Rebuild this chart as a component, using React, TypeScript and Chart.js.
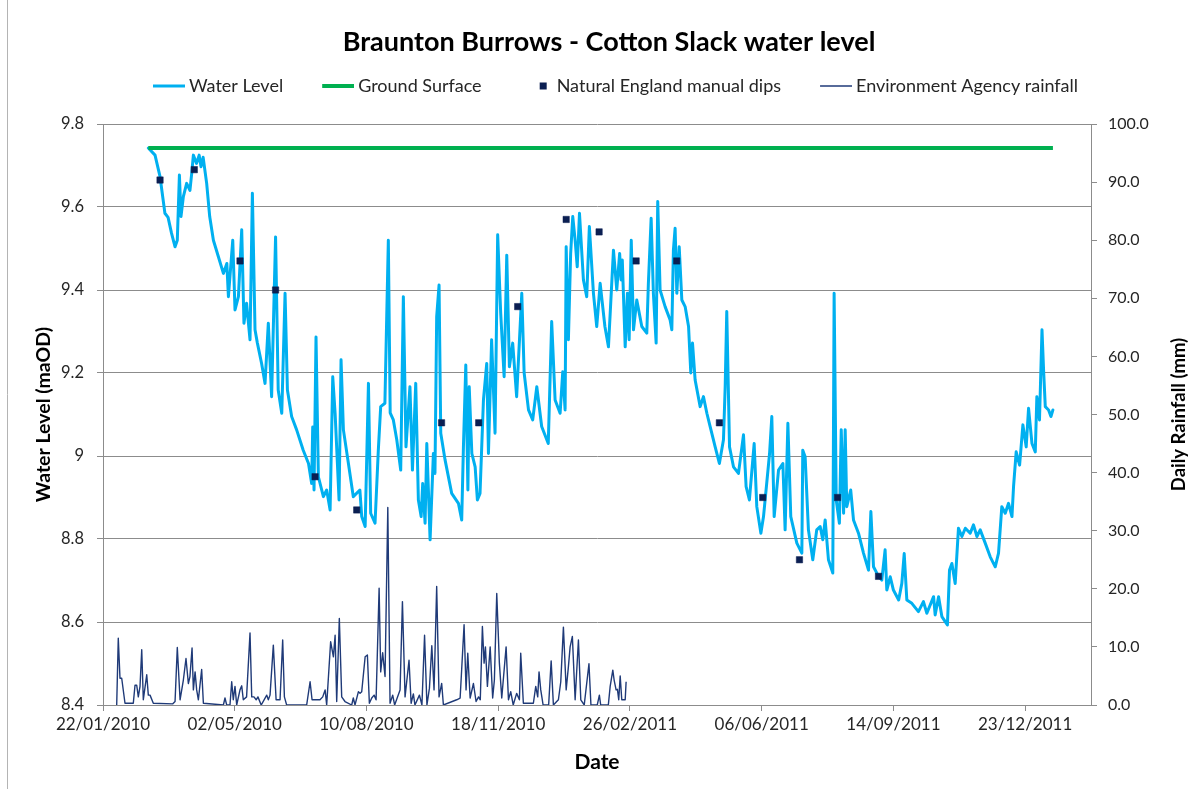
import React, { useEffect, useRef } from 'react';
import { Chart, registerables, layouts } from 'chart.js';

Chart.register(...registerables);

// ---- data (x = days since 22/01/2010) ----
const xTickDays = [0, 100, 200, 300, 400, 500, 600, 700];
const xTickLabels = ['22/01/2010', '02/05/2010', '10/08/2010', '18/11/2010', '26/02/2011', '06/06/2011', '14/09/2011', '23/12/2011'];

const waterLevel: [number, number][] = [
  [34.4, 9.742], [39.5, 9.725], [43.3, 9.673], [47, 9.585], [49.4, 9.575], [52, 9.537], [54.7, 9.504], [56.4, 9.52],
  [58, 9.677], [59.2, 9.577], [61, 9.625], [63.5, 9.657], [66, 9.64], [67.3, 9.68], [68.6, 9.725], [71, 9.705],
  [73, 9.725], [74.4, 9.697], [76, 9.72], [78.7, 9.657], [81, 9.577], [83.8, 9.52], [87.6, 9.48], [91.4, 9.44],
  [94, 9.464], [95.2, 9.384], [98.5, 9.52], [100.2, 9.352], [102.8, 9.384], [105.3, 9.545], [107, 9.32], [109, 9.368],
  [111.6, 9.28], [113.4, 9.633], [115.4, 9.304], [117.2, 9.272], [120.4, 9.223], [123, 9.175], [125.5, 9.32], [128, 9.143],
  [131, 9.528], [133, 9.159], [135.7, 9.103], [138.2, 9.392], [140, 9.159], [143.2, 9.095], [147, 9.063], [152, 9.014],
  [156, 8.982], [158.4, 8.934], [159.2, 9.07], [160.2, 8.918], [161.7, 9.287], [163.5, 8.95], [167.3, 8.902], [169.8, 8.918],
  [172.4, 8.87], [174.4, 9.191], [176.2, 9.103], [179.2, 8.894], [180.7, 9.232], [182.5, 9.063], [186.3, 8.982], [190, 8.902],
  [195, 8.918], [196.4, 8.854], [199, 8.83], [201.5, 9.175], [203.2, 8.862], [206.5, 8.838], [209, 9.014], [210.8, 9.119],
  [214, 9.127], [216.6, 9.52], [218, 9.104], [220.4, 9.087], [223, 9.039], [226, 8.966], [228, 9.384], [230, 9.022],
  [233, 9.167], [234.9, 8.966], [237.4, 9.175], [239.4, 8.894], [241.5, 8.854], [242.7, 8.934], [244.5, 8.838], [245.8, 9.03],
  [248.3, 8.798], [250.8, 9.006], [252, 8.958], [253.3, 9.336], [255.1, 9.412], [256.4, 9.055], [259.7, 8.99], [264.7, 8.91],
  [269.8, 8.886], [272.3, 8.846], [273.6, 9.022], [275.4, 9.219], [277, 8.918], [278, 9.167], [280, 9.006], [282.5, 8.974],
  [284.2, 8.894], [286.2, 8.91], [288.8, 9.135], [291.3, 9.223], [292.6, 9.006], [295, 9.28], [297.6, 9.055], [299.6, 9.533],
  [301.9, 9.344], [304.5, 9.191], [306.5, 9.484], [308.5, 9.215], [311, 9.272], [314, 9.143], [317.9, 9.392], [319.7, 9.2],
  [323, 9.111], [326.2, 9.087], [329.3, 9.167], [333, 9.071], [338, 9.03], [340.6, 9.324], [343.2, 9.135], [347, 9.103],
  [349, 9.203], [350.8, 9.111], [351.6, 9.504], [353.3, 9.28], [355, 9.488], [356.6, 9.577], [358.4, 9.52], [360, 9.456],
  [361.7, 9.585], [364.7, 9.424], [367.2, 9.384], [369.2, 9.553], [372.3, 9.392], [374.8, 9.312], [377.4, 9.416], [381, 9.312],
  [383.7, 9.263], [387.5, 9.496], [390, 9.4], [392.2, 9.488], [393.3, 9.424], [394.2, 9.472], [396.4, 9.263], [398.1, 9.392],
  [399.4, 9.28], [401, 9.52], [402.7, 9.304], [405.2, 9.376], [409, 9.312], [412.8, 9.296], [414, 9.416], [416.1, 9.573],
  [417.8, 9.392], [419.9, 9.272], [421.1, 9.613], [422.9, 9.4], [426.7, 9.36], [430.5, 9.328], [431.8, 9.304], [433, 9.496],
  [434.3, 9.549], [435.6, 9.392], [437.4, 9.504], [439.4, 9.376], [441.9, 9.36], [444.5, 9.312], [446.2, 9.2], [447.5, 9.272],
  [449.5, 9.183], [453.3, 9.119], [455.8, 9.143], [458.4, 9.103], [460.9, 9.071], [464.7, 9.022], [467.9, 8.982], [471, 9.039],
  [472.3, 9.167], [473.5, 9.348], [475.6, 9.022], [478.6, 8.974], [482.4, 8.958], [486.2, 9.051], [488.2, 8.926], [490.7, 8.894],
  [494.3, 9.03], [496.3, 8.878], [499.4, 8.814], [501.4, 8.854], [506, 9.006], [507.7, 9.095], [509.5, 8.854], [512.8, 8.966],
  [516.1, 8.982], [517.8, 8.822], [519.9, 9.079], [522.1, 8.854], [526.7, 8.79], [530.5, 8.766], [531.2, 9.014], [533, 8.998],
  [535.5, 8.822], [538.8, 8.75], [541.8, 8.822], [544.4, 8.83], [546.4, 8.798], [548.2, 8.846], [550.7, 8.75], [554, 8.718],
  [555, 9.392], [556.6, 8.894], [559, 8.838], [560.4, 9.063], [562.2, 8.862], [563.4, 9.063], [564.6, 8.878], [567.6, 8.918],
  [569.7, 8.846], [573.5, 8.814], [577.3, 8.766], [581.1, 8.725], [582.9, 8.866], [584.9, 8.733], [588.7, 8.71], [591.2, 8.701],
  [593.7, 8.774], [595, 8.677], [597.6, 8.709], [600, 8.677], [604, 8.653], [606.4, 8.693], [608.2, 8.765], [610.2, 8.653],
  [614, 8.645], [619, 8.625], [622.8, 8.649], [625.4, 8.621], [630.5, 8.661], [631.7, 8.617], [634.3, 8.661], [636.8, 8.613],
  [641, 8.593], [642.6, 8.725], [644.4, 8.741], [646.9, 8.693], [649.4, 8.826], [652, 8.806], [654.6, 8.826], [658.3, 8.814],
  [660.8, 8.834], [663.4, 8.806], [665.9, 8.822], [669.7, 8.79], [673.5, 8.757], [677.3, 8.733], [679.8, 8.766], [682.3, 8.878],
  [684.9, 8.862], [687.4, 8.886], [690, 8.854], [691.2, 8.926], [693.2, 9.01], [695.8, 8.978], [698.3, 9.075], [700.8, 9.022],
  [702.6, 9.115], [705.2, 9.03], [707.7, 9.01], [708.9, 9.143], [710.9, 9.087], [712.8, 9.304], [714, 9.207], [715.3, 9.119],
  [717.8, 9.111], [719.6, 9.095], [721.1, 9.111],
];

const groundSurface: [number, number][] = [[34.4, 9.742], [721.1, 9.742]];

const manualDips: [number, number][] = [
  [43.3, 9.665], [69.3, 9.69], [104, 9.47], [131, 9.4], [161, 8.95], [192.6, 8.87], [257, 9.08], [285.2, 9.08], [314.8, 9.36],
  [351.6, 9.57], [376.6, 9.54], [404.7, 9.47], [435.5, 9.47], [467.9, 9.08], [500.8, 8.9], [528.7, 8.75], [557.6, 8.9], [588.7, 8.71],
];

const rainfall: [number, number][] = [
  [10.4, 0], [11.6, 11.5], [12.9, 4.6], [14.2, 4.6], [16.7, 0.3], [23, 0.3], [24.3, 3.4], [25.6, 3.4], [26.8, 1.4], [28.1, 3.2],
  [29.4, 9.5], [30.6, 0.9], [33.2, 5.2], [34.4, 1.7], [35.7, 1.7], [38.2, 0.3], [53, 0.2], [54.7, 0.6], [56.4, 9.9], [58.5, 0.9],
  [61, 4.3], [63, 8], [64.8, 3.7], [66, 4.9], [67.6, 9.8], [68.6, 2.6], [69.9, 5.7], [71.1, 2.6], [72.4, 0.9], [74.9, 6.1],
  [76.2, 0.3], [91.4, 0], [92.6, 1.2], [93.9, 0], [96.4, 0], [97.7, 4], [98.9, 0.9], [100.2, 3.2], [101.5, 0], [104, 2.6],
  [105.3, 3.3], [106.5, 0.9], [109, 1.4], [111.6, 12.4], [112.9, 1.4], [114.6, 1.4], [116.3, 0.9], [117.6, 1.4], [120.1, 0],
  [124.3, 1.7], [125.5, 0.9], [126.8, 1.7], [129.3, 10.3], [131.4, 0.9], [134.4, 0.9], [136.4, 11.2], [137.7, 1.4], [139.4, 0],
  [154.6, 0], [157.2, 4], [158.7, 0.9], [162.2, 0.9], [164.7, 0.9], [166.8, 1.4], [168.6, 2.6], [169.8, 0], [172.8, 10.9],
  [174.9, 8.3], [176.2, 12], [177.4, 0.6], [179.4, 14.9], [181.2, 1.4], [183.7, 0.6], [188.8, 0], [190, 1.2], [191.3, 0],
  [193.9, 2.3], [195.1, 2], [196.4, 2.3], [199, 8.3], [200.7, 8.6], [202.2, 0.3], [204, 1.2], [205.8, 1.7], [207.3, 0.9],
  [209.6, 20.1], [210.8, 5.7], [212.3, 9], [214.1, 4.9], [216.2, 34], [217.9, 0.3], [219.9, 1.7], [221.4, 0], [225.5, 2.6],
  [227.3, 17.8], [229.3, 1.4], [232.3, 7.7], [233.9, 0.3], [235.6, 1.9], [236.8, 0], [240.2, 1.7], [242.1, 0], [244.1, 12],
  [245.9, 0], [247.8, 2.9], [249.6, 10.2], [251.3, 2.6], [253.3, 20.4], [255.1, 1.4], [257.1, 3.7], [258.4, 0], [268.5, 0.9],
  [271.1, 1.2], [274.1, 13.8], [275.6, 2.6], [276.9, 8.9], [278.7, 1.2], [281.2, 3.7], [283.2, 0.6], [285.1, 1.4], [286.4, 0.9],
  [288, 13.5], [289.3, 7.2], [290.3, 10], [291.8, 3.2], [293.9, 10], [295.8, 1.2], [297.1, 4.3], [298.9, 19.2], [300.9, 7.2],
  [302.7, 1.2], [306, 10], [307.8, 0.9], [309.5, 2.3], [311.4, 0], [314, 2], [316.1, 0.9], [317.1, 8.9], [319.1, 0.3],
  [326.7, 0.3], [328.5, 3.2], [330, 1.4], [331, 5.7], [332.3, 2.6], [334.1, 0], [338.3, 0], [340.2, 7.6], [341.9, 0],
  [345.7, 0.9], [347.5, 4], [349.5, 13.4], [351.6, 2.6], [353.3, 6.6], [354.6, 10], [356.3, 11.8], [358.4, 0.9], [360.9, 11.2],
  [362.7, 0.9], [365.3, 0], [368.9, 7.1], [370.4, 0], [375.2, 0], [376.8, 1.7], [377.8, 0], [383.6, 0], [385, 3.2], [387, 6],
  [388, 4.3], [389.5, 2.6], [390.5, 2.7], [391.5, 0.9], [392.6, 5], [393.8, 0.9], [396.4, 0.9], [397.1, 4],
];

// ---- styling ----
const FONT = 'Lato, "Open Sans", sans-serif';
const WATER = '#00B0F0';
const GROUND = '#00B050';
const DIP = '#0B1F52';
const RAIN = '#1F3A78';
const GRID = '#8C8C8C';
const TEXT = '#262626';

const LEG_FONT = 18;
const LEG_BOX = 40;
const LEG_PAD = 26;

function legendImage(kind: string, color: string, width: number) {
  const w = LEG_BOX + 10;
  const h = 10;
  const c = document.createElement('canvas');
  c.width = w;
  c.height = h;
  const g = c.getContext('2d')!;
  if (kind === 'line') {
    g.strokeStyle = color;
    g.lineWidth = width;
    g.beginPath();
    g.moveTo(w - 32, h / 2);
    g.lineTo(w, h / 2);
    g.stroke();
  } else {
    g.fillStyle = color;
    g.fillRect(w / 2 + 12, h / 2 - 3.5, 7, 7);
  }
  return c;
}

const spacerPlugin = {
  id: 'legendSpacer',
  beforeInit(chart: any) {
    const box: any = {
      position: 'top',
      weight: 0,
      fullSize: true,
      options: {},
      left: 0, top: 0, right: 0, bottom: 0, width: 0, height: 0,
      isHorizontal: () => true,
      update(maxWidth: number) {
        box.width = maxWidth;
        box.height = 19;
      },
      draw() {},
    };
    layouts.addBox(chart, box);
  },
};

const decorPlugin = {
  id: 'decor',
  beforeDraw(chart: any) {
    const ctx = chart.ctx;
    ctx.save();
    ctx.strokeStyle = '#B4B4B4';
    ctx.lineWidth = 1;
    ctx.beginPath();
    ctx.moveTo(7.5, 0);
    ctx.lineTo(7.5, chart.height);
    ctx.stroke();
    ctx.restore();
  },
  afterDraw(chart: any) {
    const ctx = chart.ctx;
    const area = chart.chartArea;
    ctx.save();
    ctx.translate(1179, (area.top + area.bottom) / 2);
    ctx.rotate(-Math.PI / 2);
    ctx.font = `bold 18.5px ${FONT}`;
    ctx.fillStyle = '#000';
    ctx.textAlign = 'center';
    ctx.textBaseline = 'middle';
    ctx.fillText('Daily Rainfall (mm)', 0, 0);
    ctx.restore();
  },
};

export default function App() {
  const ref = useRef<HTMLCanvasElement>(null);

  useEffect(() => {
    const canvas = ref.current!;
    const legendImgs = [
      legendImage('line', WATER, 3),
      legendImage('line', GROUND, 4),
      legendImage('rect', DIP, 0),
      legendImage('line', RAIN, 1.5),
    ];
    const toXY = (arr: [number, number][]) => arr.map(([x, y]) => ({ x, y }));

    const chart = new Chart(canvas, {
      type: 'line',
      data: {
        datasets: [
          {
            label: 'Water Level',
            data: toXY(waterLevel),
            borderColor: WATER,
            backgroundColor: WATER,
            borderWidth: 3,
            pointRadius: 0,
            tension: 0,
            borderJoinStyle: 'round',
            borderCapStyle: 'round',
            yAxisID: 'y',
            order: 3,
          },
          {
            label: 'Ground Surface',
            data: toXY(groundSurface),
            borderColor: GROUND,
            backgroundColor: GROUND,
            borderWidth: 4,
            pointRadius: 0,
            yAxisID: 'y',
            order: 2,
          },
          {
            label: 'Natural England manual dips',
            data: toXY(manualDips),
            showLine: false,
            pointStyle: 'rect',
            pointRadius: 4.5,
            pointBorderWidth: 0.5,
            borderColor: DIP,
            backgroundColor: DIP,
            yAxisID: 'y',
            order: 1,
          },
          {
            label: 'Environment Agency rainfall',
            data: toXY(rainfall),
            borderColor: RAIN,
            backgroundColor: RAIN,
            borderWidth: 1.4,
            pointRadius: 0,
            borderJoinStyle: 'round',
            yAxisID: 'y1',
            order: 0,
          },
        ],
      },
      options: {
        responsive: false,
        animation: false,
        devicePixelRatio: 1,
        layout: { padding: { left: 21, right: 0, top: 0, bottom: 0 } },
        plugins: {
          title: {
            display: true,
            text: 'Braunton Burrows - Cotton Slack water level',
            color: '#000',
            font: { family: FONT, size: 27, weight: 'bold' },
            padding: { top: 25.8, bottom: -7.2 },
          },
          legend: {
            display: true,
            position: 'top',
            labels: {
              usePointStyle: true,
              pointStyleWidth: LEG_BOX,
              padding: LEG_PAD,
              color: TEXT,
              font: { family: FONT, size: LEG_FONT },
              sort: (a: any, b: any) => a.datasetIndex - b.datasetIndex,
              generateLabels: (ch: any) => {
                const items = (Chart as any).defaults.plugins.legend.labels.generateLabels(ch);
                return items.map((it: any) => ({ ...it, pointStyle: legendImgs[it.datasetIndex] }));
              },
            },
          },
          tooltip: { enabled: false },
        },
        scales: {
          x: {
            type: 'linear',
            min: 0,
            max: 750,
            afterBuildTicks: (scale: any) => {
              scale.ticks = xTickDays.map((v) => ({ value: v }));
            },
            afterFit: (scale: any) => {
              scale.height = 84;
            },
            grid: { drawOnChartArea: false, drawTicks: true, tickLength: 6, color: GRID },
            border: { display: true, color: GRID },
            ticks: {
              autoSkip: false,
              maxRotation: 0,
              includeBounds: false,
              padding: 3.8,
              color: TEXT,
              font: { family: FONT, size: 17 },
              callback: (v: any) => {
                const i = xTickDays.indexOf(Number(v));
                return i >= 0 ? xTickLabels[i] : '';
              },
            },
            title: {
              display: true,
              text: 'Date',
              color: '#000',
              font: { family: FONT, size: 21, weight: 'bold' },
              padding: { top: 0, bottom: 14.4 },
            },
          },
          y: {
            position: 'left',
            min: 8.4,
            max: 9.8,
            afterFit: (scale: any) => {
              scale.width = 82;
            },
            grid: { drawOnChartArea: true, drawTicks: true, tickLength: 6, color: GRID },
            border: { display: true, color: GRID },
            ticks: {
              stepSize: 0.2,
              padding: 13,
              color: TEXT,
              font: { family: FONT, size: 16.5 },
              callback: (v: any) => String(Number(Number(v).toFixed(1))),
            },
            title: {
              display: true,
              text: 'Water Level (maOD)',
              color: '#000',
              font: { family: FONT, size: 19.5, weight: 'bold' },
              padding: { top: 11.3, bottom: 0 },
            },
          },
          y1: {
            position: 'right',
            min: 0,
            max: 100,
            afterFit: (scale: any) => {
              scale.width = 106;
            },
            grid: { drawOnChartArea: false, drawTicks: true, tickLength: 6, color: GRID },
            border: { display: true, color: GRID },
            ticks: {
              stepSize: 10,
              padding: 11,
              color: TEXT,
              font: { family: FONT, size: 16 },
              callback: (v: any) => Number(v).toFixed(1),
            },
            title: { display: false },
          },
        },
      },
      plugins: [spacerPlugin, decorPlugin],
    } as any);

    return () => chart.destroy();
  }, []);

  return (
    <div style={{ position: 'fixed', left: 0, top: 0, width: 1197, height: 789, background: '#fff' }}>
      <canvas ref={ref} width={1197} height={789} style={{ display: 'block' }} />
    </div>
  );
}
